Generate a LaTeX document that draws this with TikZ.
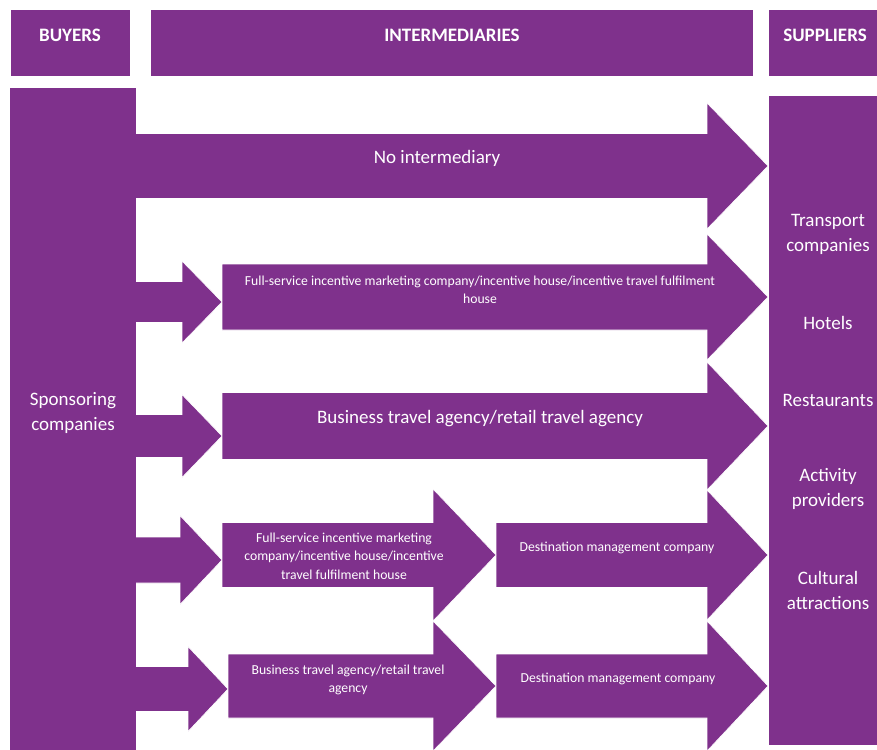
\documentclass[tikz,border=0pt]{standalone}
\usepackage{fontspec}
\setmainfont{Carlito}
\usetikzlibrary{positioning}
\definecolor{plum}{RGB}{127,49,140}

% block arrow: tail x, head base x, tip x, centre y, half body, half head
\newcommand{\blockarrow}[6]{%
  \fill[band] (#1,#4-#5) -- (#2,#4-#5) -- (#2,#4-#6) -- (#3,#4)
    -- (#2,#4+#6) -- (#2,#4+#5) -- (#1,#4+#5) -- cycle;}

\begin{document}
\begin{tikzpicture}[x=1pt, y=-1pt,
        band/.style={fill=plum, draw=white, line width=0.6pt},
        lbl/.style={text=white, align=center, inner sep=0pt},
        big/.style={lbl, font=\fontsize{19}{25}\selectfont},
        small/.style={lbl, font=\fontsize{13.7}{18.5}\selectfont},
        head/.style={lbl, font=\bfseries\fontsize{19}{22}\selectfont}
    ]
    \clip (0,0) rectangle (877,749);
    % headers
    \fill[band] (10,9) rectangle (130,76);
    \fill[band] (150,9) rectangle (753,76);
    \fill[band] (768,9) rectangle (880,76);
    \node[head] (hbuyers) at (70,35) {BUYERS};
    \node[head] (hinter) at (452,35) {INTERMEDIARIES};
    \node[head] (hsupp) at (825,35) {SUPPLIERS};
    % row 1
    \blockarrow{130}{707}{768}{166}{32.5}{63}
    % row 2
    \blockarrow{130}{182}{222}{302}{20.5}{41}
    \blockarrow{222}{707}{768}{297}{33}{63}
    % row 3
    \blockarrow{130}{182}{222}{436}{21.5}{41.5}
    \blockarrow{222}{707}{768}{426}{33.5}{64}
    % row 4
    \blockarrow{130}{180}{222}{560}{23}{44.5}
    \blockarrow{496}{707}{768}{555}{32.5}{65}
    \blockarrow{222}{433}{496}{555}{32.5}{66}
    % row 5
    \blockarrow{130}{188}{228}{689}{22.5}{42.5}
    \blockarrow{496}{707}{768}{686}{32}{65}
    \blockarrow{228}{433}{496}{686}{32}{65}
    % columns
    \fill[plum] (10,88) rectangle (136,752);
    \fill[band] (768,95) rectangle (880,745);
    \node[big] (buyers) at (73,413) {Sponsoring\\companies};
    \node[big] (transport) at (828,234) {Transport\\companies};
    \node[big] (hotels) at (828,323) {Hotels};
    \node[big] (restaurants) at (828,400) {Restaurants};
    \node[big] (activity) at (828,489) {Activity\\providers};
    \node[big] (cultural) at (828,590) {Cultural\\attractions};
    % labels
    \node[big] (noint) at (437,158) {No intermediary};
    \node[small] (fullsvc) at (480,290)
        {Full-service incentive marketing company/incentive house/incentive travel fulfilment\\house};
    \node[big] (bta) at (480,419) {Business travel agency/retail travel agency};
    \node[small] (fullsvcb) at (344,556)
        {Full-service incentive marketing\\company/incentive house/incentive\\travel fulfilment house};
    \node[small] (dmca) at (617,548) {Destination management company};
    \node[small] (btab) at (348,680) {Business travel agency/retail travel\\agency};
    \node[small] (dmcb) at (618,679) {Destination management company};
\end{tikzpicture}
\end{document}
